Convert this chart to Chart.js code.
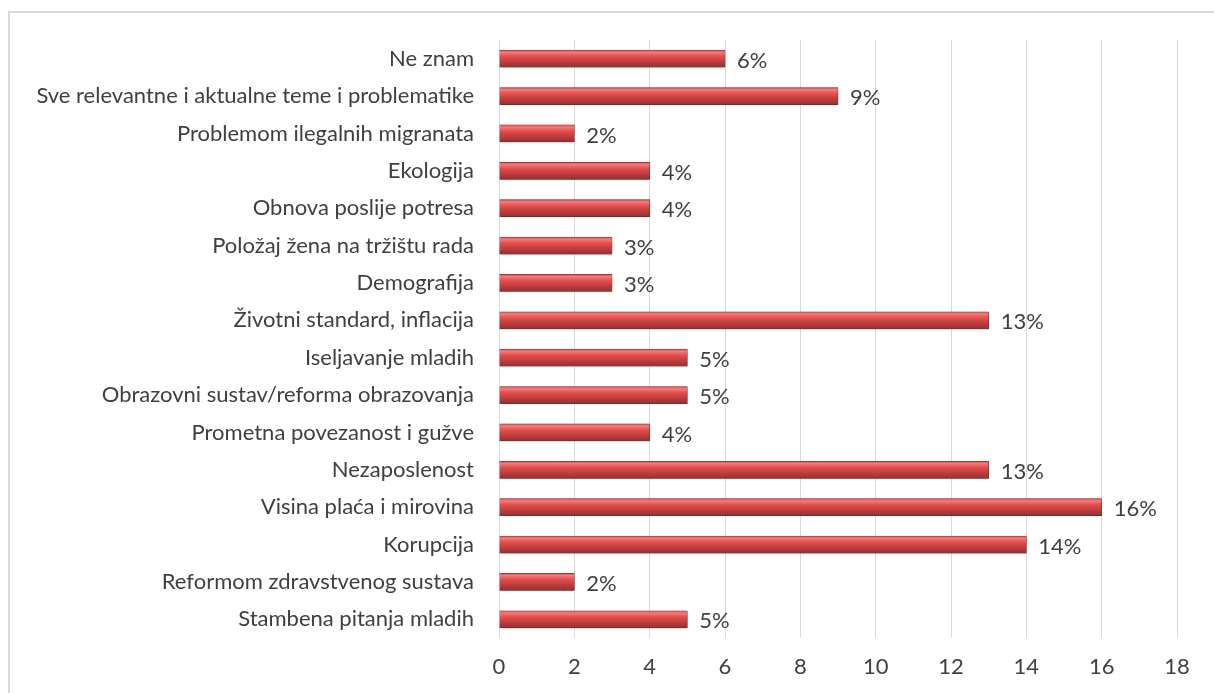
<!DOCTYPE html>
<html><head><meta charset="utf-8">
<script src="https://cdn.jsdelivr.net/npm/chart.js@4"></script>
<style>html,body{margin:0;padding:0;background:#fff;}#wrap{position:relative;width:1214px;height:693px;}</style>
</head><body><div id="wrap"><canvas id="c" width="1214" height="693"></canvas></div>
<script>
const categories = ["Ne znam","Sve relevantne i aktualne teme i problematike","Problemom ilegalnih migranata","Ekologija","Obnova poslije potresa","Položaj žena na tržištu rada","Demografija","Životni standard, inflacija","Iseljavanje mladih","Obrazovni sustav/reforma obrazovanja","Prometna povezanost i gužve","Nezaposlenost","Visina plaća i mirovina","Korupcija","Reformom zdravstvenog sustava","Stambena pitanja mladih"];
const values = [6,9,2,4,4,3,3,13,5,5,4,13,16,14,2,5];
const xTicks = [0,2,4,6,8,10,12,14,16,18];

const FONT = "Lato, 'Liberation Sans', sans-serif";
const FSIZE = 22;
const TXT = '#404040';

function barGradient(ctx){
  const chart = ctx.chart;
  if(!chart.chartArea) return '#d64545';
  const y = chart.scales.y.getPixelForValue(ctx.dataIndex);
  const h = 17;
  const g = chart.ctx.createLinearGradient(0, y - h/2, 0, y + h/2);
  g.addColorStop(0, '#c84848');
  g.addColorStop(0.12, '#f47c7c');
  g.addColorStop(0.35, '#e45050');
  g.addColorStop(0.6, '#c84040');
  g.addColorStop(1, '#963030');
  return g;
}

const frame = {
  id:'frame',
  beforeDraw(chart){
    const c = chart.ctx; c.save();
    c.strokeStyle = '#d9d9d9'; c.lineWidth = 2;
    c.strokeRect(9, 12, 1230, 700);
    c.restore();
  }
};
const shadow = {
  id:'shadow',
  beforeDatasetDraw(chart){ const c=chart.ctx; c.save(); c.shadowColor='rgba(0,0,0,0.35)'; c.shadowOffsetY=2; c.shadowOffsetX=1; c.shadowBlur=3; },
  afterDatasetDraw(chart){ chart.ctx.restore(); }
};
const labels = {
  id:'vlabels',
  afterDatasetsDraw(chart){
    const c = chart.ctx; c.save();
    c.font = FSIZE + 'px ' + FONT; c.fillStyle = TXT; c.textBaseline='middle'; c.textAlign='left';
    chart.getDatasetMeta(0).data.forEach((el,i)=>{
      c.fillText(values[i] + '%', el.x + 12, el.y + 2);
    });
    c.restore();
  }
};

new Chart(document.getElementById('c'), {
  type:'bar',
  data:{ labels: categories, datasets:[{ data: values, backgroundColor: barGradient, borderColor:'#8a2a2a', borderWidth:0.5, barThickness:17 }]},
  options:{
    indexAxis:'y', responsive:false, animation:false,
    layout:{ padding:{ left:0, right:37, top:40, bottom:0 } },
    plugins:{ legend:{display:false}, tooltip:{enabled:false} },
    scales:{
      x:{ min:0, max:18, afterBuildTicks: s => { s.ticks = xTicks.map(v=>({value:v})); },
        grid:{ color:'#d9d9d9', lineWidth:1, drawTicks:false },
        border:{ display:false },
        ticks:{ color:TXT, font:{ family:FONT, size:FSIZE }, padding:16, maxRotation:0 },
        afterFit: s => { s.height = 55; } },
      y:{ grid:{ display:false }, border:{ display:false },
        ticks:{ color:TXT, font:{ family:FONT, size:FSIZE }, padding:17, autoSkip:false },
        afterFit: s => { s.width = 499; } }
    }
  },
  plugins:[frame, shadow, labels]
});
</script></body></html>
